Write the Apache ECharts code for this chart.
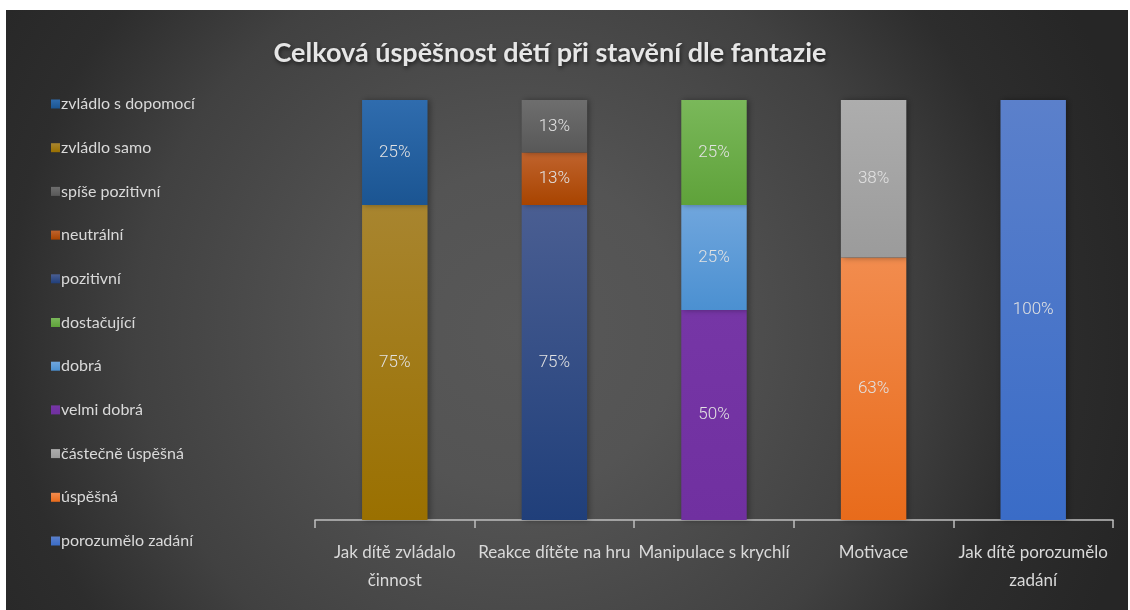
<!DOCTYPE html>
<html>
<head>
<meta charset="utf-8">
<script src="https://cdn.jsdelivr.net/npm/echarts@6/dist/echarts.min.js"></script>
<style>html,body{margin:0;padding:0;background:#fff;}#c{width:1130px;height:610px;}</style>
</head>
<body>
<div id="c"></div>
<script>
const categories = ['Jak dítě zvládalo\nčinnost', 'Reakce dítěte na hru', 'Manipulace s krychlí', 'Motivace', 'Jak dítě porozumělo\nzadání'];
const legendOrder = ['zvládlo s dopomocí', 'zvládlo samo', 'spíše pozitivní', 'neutrální', 'pozitivní', 'dostačující', 'dobrá', 'velmi dobrá', 'částečně úspěšná', 'úspěšná', 'porozumělo zadání'];
// stacking order bottom → top
const zvladloSamo      = [75, null, null, null, null];
const zvladloDopomoci  = [25, null, null, null, null];
const pozitivni        = [null, 75, null, null, null];
const neutralni        = [null, 12.5, null, null, null];
const spisePozitivni   = [null, 12.5, null, null, null];
const velmiDobra       = [null, null, 50, null, null];
const dobra            = [null, null, 25, null, null];
const dostacujici      = [null, null, 25, null, null];
const uspesna          = [null, null, null, 62.5, null];
const castecneUspesna  = [null, null, null, 37.5, null];
const porozumeloZadani = [null, null, null, null, 100];

const seriesDefs = [
  ['zvládlo samo', zvladloSamo, '#a8852f', '#9a7000'],
  ['zvládlo s dopomocí', zvladloDopomoci, '#2f6cae', '#1b5592'],
  ['pozitivní', pozitivni, '#4a5e92', '#203f7a'],
  ['neutrální', neutralni, '#c0632d', '#a84400'],
  ['spíše pozitivní', spisePozitivni, '#6e6e6e', '#585858'],
  ['velmi dobrá', velmiDobra, '#7636a6', '#7030a0'],
  ['dobrá', dobra, '#70a6dd', '#4b90d1'],
  ['dostačující', dostacujici, '#7ab85a', '#5fa23a'],
  ['úspěšná', uspesna, '#f28c4e', '#e86b1b'],
  ['částečně úspěšná', castecneUspesna, '#adadad', '#9b9b9b'],
  ['porozumělo zadání', porozumeloZadani, '#5b80cb', '#3a6cc7']
];

const FONT = 'Lato';
const chart = echarts.init(document.getElementById('c'));
const series = seriesDefs.map(([name, data, c1, c2]) => ({
  name, type: 'bar', stack: 'total', data, barWidth: '41%',
  itemStyle: {
    color: new echarts.graphic.LinearGradient(0, 0, 0, 1, [{offset: 0, color: c1}, {offset: 1, color: c2}]),
    shadowColor: 'rgba(0,0,0,0.35)', shadowBlur: 6, shadowOffsetX: 2
  },
  label: {
    show: true, position: 'inside', color: '#e2e2e2', fontFamily: 'Roboto', fontSize: 17, fontWeight: 300,
    formatter: p => Math.round(p.value) + '%'
  },
  emphasis: {disabled: true}
}));

chart.setOption({
  animation: false,
  backgroundColor: '#ffffff',
  graphic: [{
    type: 'rect', z: -10, silent: true,
    shape: {x: 6, y: 10, width: 1122, height: 600},
    style: {
      fill: new echarts.graphic.RadialGradient(520, 330, 640, [
        {offset: 0, color: '#585858'},
        {offset: 0.25, color: '#545454'},
        {offset: 0.6, color: '#414141'},
        {offset: 0.8, color: '#2d2d2d'},
        {offset: 1, color: '#262626'}
      ], true)
    }
  }],
  title: {
    text: 'Celková úspěšnost dětí při stavění dle fantazie',
    left: 545, textAlign: 'center', top: 35,
    textStyle: {
      color: '#e6e6e6', fontFamily: FONT, fontWeight: 'bold', fontSize: 27,
      textShadowColor: 'rgba(0,0,0,0.6)', textShadowBlur: 4, textShadowOffsetX: 1, textShadowOffsetY: 2
    }
  },
  legend: {
    orient: 'vertical', left: 46, top: 89,
    data: legendOrder, icon: 'rect', itemWidth: 9, itemHeight: 9, itemGap: 23.7,
    selectedMode: false,
    textStyle: {color: '#d9d9d9', fontFamily: FONT, fontSize: 16, lineHeight: 20, padding: [0, 0, 0, -4]}
  },
  grid: {left: 315, right: 17, top: 100, bottom: 90},
  xAxis: {
    type: 'category', data: categories,
    axisLine: {lineStyle: {color: '#bfbfbf', width: 1.5}},
    axisTick: {show: true, length: 8, lineStyle: {color: '#bfbfbf', width: 1.5}},
    axisLabel: {color: '#d9d9d9', fontFamily: FONT, fontSize: 17, lineHeight: 28, margin: 19, interval: 0}
  },
  yAxis: {type: 'value', min: 0, max: 100, show: false, splitLine: {show: false}},
  series
});
</script>
</body>
</html>
